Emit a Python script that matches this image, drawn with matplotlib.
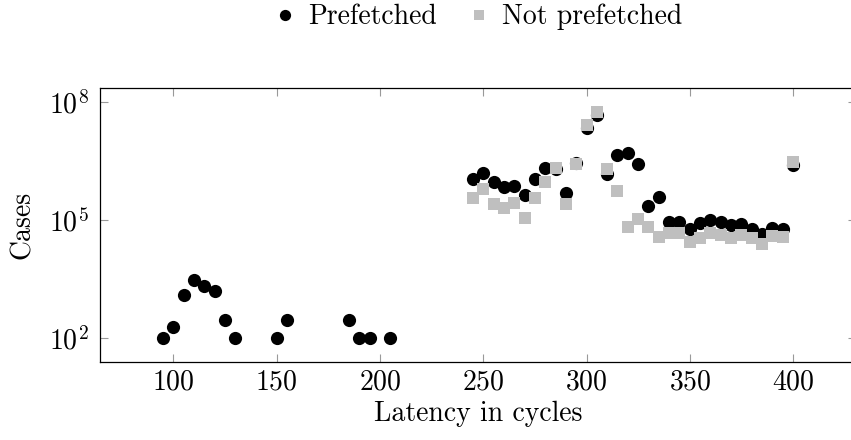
import numpy as np
import matplotlib
matplotlib.use("Agg")
import matplotlib.pyplot as plt
from matplotlib.ticker import FixedLocator, LogFormatterSciNotation, NullLocator

plt.rcParams["font.family"] = "serif"
plt.rcParams["font.serif"] = ["cmr10"]
plt.rcParams["mathtext.fontset"] = "cm"
plt.rcParams["axes.formatter.use_mathtext"] = True

# Latency histogram (cycles -> number of cases)
lat_pref = [95, 100, 105, 110, 115, 120, 125, 130, 150, 155, 185, 190, 195, 205,
            245, 250, 255, 260, 265, 270, 275, 280, 285, 290, 295, 300, 305, 310,
            315, 320, 325, 330, 335, 340, 345, 350, 355, 360, 365, 370, 375, 380,
            385, 390, 395, 400]
cases_pref = [100, 190, 1230, 2900, 2100, 1600, 290, 100, 100, 290, 290, 100, 100, 100,
              1.12e6, 1.57e6, 9.3e5, 6.7e5, 7.2e5, 4.4e5, 1.07e6, 2.14e6, 2.0e6, 4.7e5,
              2.8e6, 2.1e7, 4.6e7, 1.5e6, 4.4e6, 4.9e6, 2.6e6, 2.2e5, 3.9e5, 8.9e4,
              8.9e4, 6.0e4, 8.5e4, 1.0e5, 8.7e4, 7.4e4, 7.8e4, 6.0e4, 4.4e4, 6.3e4,
              5.8e4, 2.5e6]

lat_nopref = [245, 250, 255, 260, 265, 270, 275, 280, 285, 290, 295, 300, 305, 310,
              315, 320, 325, 330, 335, 340, 345, 350, 355, 360, 365, 370, 375, 380,
              385, 390, 395, 400]
cases_nopref = [3.5e5, 6.2e5, 2.6e5, 2.0e5, 2.7e5, 1.1e5, 3.7e5, 9.3e5, 2.1e6, 2.5e5,
                2.6e6, 2.6e7, 5.5e7, 2.0e6, 5.4e5, 6.6e4, 1.07e5, 6.6e4, 3.6e4, 4.6e4,
                4.6e4, 2.75e4, 3.4e4, 4.7e4, 4.1e4, 3.4e4, 4.1e4, 3.4e4, 2.5e4, 3.9e4,
                3.7e4, 2.95e6]

x_ticks = [100, 150, 200, 250, 300, 350, 400]
y_ticks = [1e2, 1e5, 1e8]

fig = plt.figure(figsize=(8.51, 4.40), dpi=100)
ax = fig.add_axes([0.1175, 0.1773, 0.8885, 0.6227])

ax.plot(lat_pref, cases_pref, "o", color="black", markersize=9.5,
        markeredgewidth=0, label="Prefetched")
ax.plot(lat_nopref, cases_nopref, "s", color="#bfbfbf", markersize=9,
        markeredgewidth=0, label="Not prefetched")

ax.set_yscale("log")
ax.set_xlim(64.5, 430.5)
ax.set_ylim(10 ** 1.39, 10 ** 8.35)

ax.xaxis.set_major_locator(FixedLocator(x_ticks))
ax.yaxis.set_major_locator(FixedLocator(y_ticks))
ax.yaxis.set_major_formatter(LogFormatterSciNotation())
ax.xaxis.set_minor_locator(NullLocator())
ax.yaxis.set_minor_locator(NullLocator())
ax.tick_params(which="both", direction="in", length=6, width=0.8, color="#999999",
               top=True, right=True, labelsize=20)
ax.tick_params(axis="x", pad=5)
ax.tick_params(axis="y", pad=8)

for sp in ax.spines.values():
    sp.set_linewidth(0.9)

ax.set_xlabel("Latency in cycles", fontsize=20, labelpad=4)
ax.set_ylabel("Cases", fontsize=20, labelpad=9)

fig.legend(*ax.get_legend_handles_labels(), loc="center",
           bbox_to_anchor=(478 / 851, 1 - 17 / 440), ncol=2, frameon=False,
           fontsize=20, handletextpad=0.45, columnspacing=1.1, markerscale=0.85,
           handlelength=0.8, borderpad=0.1)

fig.savefig("out.png", dpi=100)
